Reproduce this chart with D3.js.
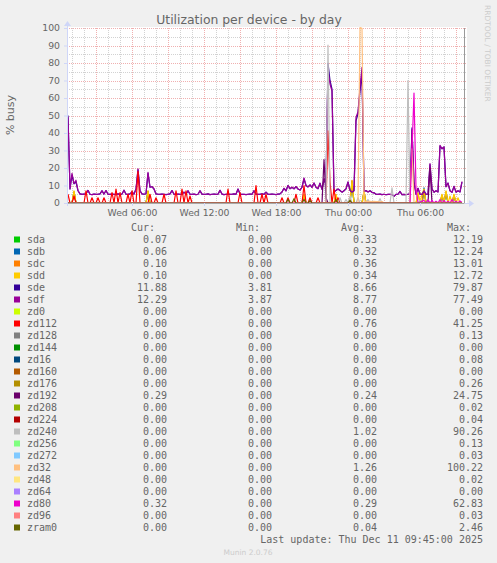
<!DOCTYPE html>
<html>
<head>
<meta charset="utf-8">
<script src="https://cdn.jsdelivr.net/npm/d3@7"></script>
<style>
  body { margin: 0; background: #f0f0f0; }
  svg { display: block; }
</style>
</head>
<body>
<div id="chart"></div>
<script>
// ---- data ---------------------------------------------------------------
// samples every 10 minutes, index 0 = Wed 10 Dec 2025 00:40 (UTC)
const sampleStart = Date.UTC(2025, 11, 10, 0, 40);
const sampleStep = 10 * 60 * 1000;
const sampleCount = 198;

const sdeValues = [
  50, 8, 16, 11, 12, 7, 5.2, 4.9, 5.1, 5.3, 7.2, 5.0, 4.8, 5.1, 4.9, 5.0, 5.2, 7.0, 5.1, 7.1,
  5.0, 4.9, 5.1, 5.0, 4.8, 5.2, 5.0, 5.1, 7.3, 5.0, 4.9, 5.2, 6.4, 5.1, 8.0, 19.0, 7.0, 5.2, 5.0, 5.3,
  17.0, 9.0, 9.3, 8.0, 5.2, 5.0, 4.9, 5.1, 5.0, 4.8, 5.0, 5.2, 7.1, 5.0, 4.9, 5.1, 5.0, 5.0, 6.2, 5.1,
  7.0, 5.0, 4.9, 5.1, 4.8, 5.0, 7.0, 5.1, 4.9, 5.0, 5.2, 4.8, 5.0, 5.1, 4.9, 5.0, 7.2, 5.1, 4.8, 5.0,
  5.1, 4.9, 5.0, 5.2, 5.0, 8.0, 5.1, 4.9, 5.0, 4.8, 5.0, 5.1, 5.0, 7.0, 5.1, 4.9, 5.0, 5.2, 4.9, 6.2,
  5.0, 4.9, 5.1, 5.0, 4.8, 5.1, 5.2, 6.3, 8.4, 7.0, 10.0, 8.2, 9.0, 8.1, 9.3, 8.0, 7.4, 9.0, 13.8, 10.0,
  9.2, 10.3, 9.0, 11.4, 9.0, 8.2, 11.3, 7.8, 13.5, 10.5, 79.87, 70.0, 65.0, 6.5, 7.2, 8.0, 7.1, 6.2, 7.0, 8.1,
  12.0, 7.2, 6.3, 7.0, 47.0, 51.0, 64.0, 74.0, 6.8, 7.1, 6.3, 7.0, 6.1, 5.8, 5.0, 4.9, 5.1, 4.8, 5.0, 4.7,
  4.9, 5.0, 4.8, 3.81, 4.9, 5.0, 6.6, 4.8, 4.9, 4.7, 5.0, 5.2, 43.0, 12.0, 5.0, 8.4, 5.1, 4.9, 6.9, 5.0,
  5.1, 22.0, 8.0, 6.2, 7.0, 6.3, 32.5, 31.0, 32.0, 9.3, 11.4, 7.0, 6.1, 9.5, 6.2, 7.0, 6.3, 11.88
];

const sdfValues = [
  49, 8, 17, 11, 13, 7, 5.2, 4.9, 5.1, 5.3, 7.2, 5.0, 4.8, 5.1, 4.9, 5.0, 5.2, 7.0, 5.1, 7.1,
  5.0, 4.9, 5.1, 5.0, 4.8, 5.2, 5.0, 5.1, 7.3, 5.0, 4.9, 5.2, 6.4, 5.1, 8.0, 19.5, 7.0, 5.2, 5.0, 5.3,
  17.5, 9.0, 9.3, 8.0, 5.2, 5.0, 4.9, 5.1, 5.0, 4.8, 5.0, 5.2, 7.1, 5.0, 4.9, 5.1, 5.0, 5.0, 6.2, 5.1,
  7.0, 5.0, 4.9, 5.1, 4.8, 5.0, 7.0, 5.1, 4.9, 5.0, 5.2, 4.8, 5.0, 5.1, 4.9, 5.0, 7.2, 5.1, 4.8, 5.0,
  5.1, 4.9, 5.0, 5.2, 5.0, 8.0, 5.1, 4.9, 5.0, 4.8, 5.0, 5.1, 5.0, 7.0, 5.1, 4.9, 5.0, 5.2, 4.9, 6.2,
  5.0, 4.9, 5.1, 5.0, 4.8, 5.1, 5.2, 6.3, 8.4, 7.0, 10.0, 8.2, 9.0, 8.1, 9.3, 8.0, 7.4, 9.0, 14.3, 10.0,
  9.2, 10.3, 9.0, 11.4, 9.0, 8.2, 11.3, 7.8, 14.0, 10.5, 76.0, 68.0, 64.0, 6.5, 7.2, 8.0, 7.1, 6.2, 7.0, 8.1,
  12.0, 7.2, 6.3, 7.0, 49.0, 52.0, 66.0, 77.49, 6.8, 7.1, 6.3, 7.0, 6.1, 5.8, 5.0, 4.9, 5.1, 4.8, 5.0, 4.7,
  4.9, 5.0, 4.8, 3.87, 4.9, 5.0, 6.6, 4.8, 4.9, 4.7, 5.0, 5.2, 42.0, 12.0, 5.0, 8.4, 5.1, 4.9, 6.9, 5.0,
  5.1, 22.5, 8.0, 6.2, 7.0, 6.3, 33.0, 31.0, 32.0, 9.3, 11.4, 7.0, 6.1, 9.5, 6.2, 7.0, 6.3, 12.29
];

// mostly idle devices: [sample index, value], every other sample is 0
const sdaPoints = [[3, 6], [40, 6.5], [118, 4.2], [142, 12.19], [148, 6], [178, 7], [187, 4], [189, 6], [193, 4], [197, 0.07]];
const sdbPoints = [[3, 6.2], [40, 6.6], [118, 4.4], [142, 12.24], [148, 6.2], [178, 8.6], [187, 4.2], [189, 6.2], [193, 4.2], [197, 0.06]];
const sdcPoints = [[3, 6.5], [40, 6.8], [118, 4.5], [134, 4.8], [142, 13.01], [148, 6.5], [175, 5.5], [178, 7.5], [187, 4.5], [189, 6.5], [193, 4.5], [197, 0.1]];
const sddPoints = [[3, 7], [40, 7], [118, 5], [134, 5], [142, 12.72], [148, 7], [175, 6], [177, 5], [178, 8], [187, 5], [189, 7], [191, 4], [193, 5], [195, 3], [197, 0.1]];
const zd0Points = [];
const zd112Points = [
  [0, 5], [3, 4], [9, 7], [12, 3], [15, 3], [18, 3], [22, 6], [24, 8], [26, 6], [30, 5], [32, 7],
  [35, 18], [41, 5], [44, 3], [48, 5], [54, 7], [57, 8], [59, 7], [61, 4], [80, 8], [86, 6], [94, 10],
  [97, 5], [99, 5], [107, 3], [110, 3], [114, 5], [118, 10], [121, 3], [125, 3], [130, 41.25],
  [131, 12], [133, 8], [135, 3]
];
const zd128Points = [[140, 0.13]];
const zd144Points = [];
const zd16Points = [[150, 0.08]];
const zd160Points = [];
const zd176Points = [[113, 0.26], [121, 0.2]];
const zd192Points = [[128, 24.75], [129, 3], [181, 20], [197, 0.29]];
const zd208Points = [[160, 0.02]];
const zd224Points = [[131, 0.04]];
const zd240Points = [[130, 90.26], [136, 3], [139, 2], [141, 4], [145, 3], [150, 2], [156, 2.5], [162, 8.6], [170, 70], [176, 1.5]];
const zd256Points = [[160, 0.13]];
const zd272Points = [[150, 0.03]];
const zd32Points = [
  [146, 100.22], [147, 99.8], [148, 1], [149, 0.9], [150, 0.8], [151, 0.9], [152, 0.8], [153, 0.9],
  [154, 0.8], [155, 0.8], [156, 0.7], [157, 0.8], [172, 31]
];
const zd48Points = [[150, 0.02]];
const zd64Points = [];
const zd80Points = [
  [172, 30], [173, 62.83], [174, 8], [176, 0.5], [177, 1], [178, 1.5], [180, 2], [182, 1.5], [184, 1],
  [186, 2], [188, 1.5], [190, 1], [192, 2], [194, 1], [196, 1.2], [197, 0.32]
];
const zd96Points = [[150, 0.03]];
const zram0Points = [[110, 2], [113, 2.46], [118, 2], [121, 1.5], [134, 2], [141, 1.5]];

const seriesNames = ["sda", "sdb", "sdc", "sdd", "sde", "sdf", "zd0", "zd112", "zd128", "zd144",
  "zd16", "zd160", "zd176", "zd192", "zd208", "zd224", "zd240", "zd256", "zd272", "zd32",
  "zd48", "zd64", "zd80", "zd96", "zram0"];
const seriesColors = ["#00CC00", "#0066B3", "#FF8000", "#FFCC00", "#330099", "#990099", "#CCFF00",
  "#FF0000", "#808080", "#008F00", "#00487D", "#B35A00", "#B38F00", "#6B006B", "#8FB300",
  "#B30000", "#BEBEBE", "#80FF80", "#80C9FF", "#FFC080", "#FFE680", "#AA80FF", "#EE00CC",
  "#FF8080", "#666600"];
const curValues = [0.07, 0.06, 0.10, 0.10, 11.88, 12.29, 0, 0, 0, 0, 0, 0, 0, 0.29, 0, 0, 0, 0, 0, 0, 0, 0, 0.32, 0, 0];
const minValues = [0, 0, 0, 0, 3.81, 3.87, 0, 0, 0, 0, 0, 0, 0, 0, 0, 0, 0, 0, 0, 0, 0, 0, 0, 0, 0];
const avgValues = [0.33, 0.32, 0.36, 0.34, 8.66, 8.77, 0, 0.76, 0, 0, 0, 0, 0, 0.24, 0, 0, 1.02, 0, 0, 1.26, 0, 0, 0.29, 0, 0.04];
const maxValues = [12.19, 12.24, 13.01, 12.72, 79.87, 77.49, 0, 41.25, 0.13, 0, 0.08, 0, 0.26, 24.75, 0.02, 0.04, 90.26, 0.13, 0.03, 100.22, 0.02, 0, 62.83, 0.03, 2.46];

const yTicks = [0, 10, 20, 30, 40, 50, 60, 70, 80, 90, 100];
const lastUpdate = "Last update: Thu Dec 11 09:45:00 2025";

// ---- build series --------------------------------------------------------
function expand(points) {
  const m = new Map(points);
  return d3.range(sampleCount).map((i) => (m.has(i) ? m.get(i) : 0));
}
const seriesValues = [
  expand(sdaPoints), expand(sdbPoints), expand(sdcPoints), expand(sddPoints),
  sdeValues, sdfValues,
  expand(zd0Points), expand(zd112Points), expand(zd128Points), expand(zd144Points),
  expand(zd16Points), expand(zd160Points), expand(zd176Points), expand(zd192Points),
  expand(zd208Points), expand(zd224Points), expand(zd240Points), expand(zd256Points),
  expand(zd272Points), expand(zd32Points), expand(zd48Points), expand(zd64Points),
  expand(zd80Points), expand(zd96Points), expand(zram0Points)
];
const series = seriesNames.map((name, k) => ({
  name,
  color: seriesColors[k],
  values: seriesValues[k].map((v, i) => ({ t: new Date(sampleStart + i * sampleStep), v }))
}));

// ---- layout ------------------------------------------------------------
const W = 497, H = 563;
const plot = { left: 67, right: 467, top: 28, bottom: 203 };
const textColor = "#666666";
const axisColor = "#CFD6F8";
const sans = "DejaVu Sans, sans-serif";
const mono = "DejaVu Sans Mono, monospace";

const x = d3.scaleUtc()
  .domain([Date.UTC(2025, 11, 10, 0, 35), Date.UTC(2025, 11, 11, 9, 55)])
  .range([plot.left, plot.right]);
const y = d3.scaleLinear().domain([0, 100]).range([plot.bottom, plot.top]);

const svg = d3.select("#chart").append("svg")
  .attr("width", W).attr("height", H)
  .attr("viewBox", `0 0 ${W} ${H}`)
  .style("background", "#f0f0f0");

// canvas
svg.append("rect")
  .attr("x", plot.left).attr("y", plot.top - 1)
  .attr("width", plot.right - plot.left).attr("height", plot.bottom - plot.top + 1)
  .attr("fill", "#ffffff");

// grid
const grid = svg.append("g").attr("shape-rendering", "crispEdges");
const minorColor = "#d2d2d2", majorColor = "#f0b0b0";
const minorY = d3.range(5, 100, 10);
grid.selectAll(".minorY").data(minorY).enter().append("line")
  .attr("x1", plot.left).attr("x2", plot.right)
  .attr("y1", (d) => Math.round(y(d)) + 0.5).attr("y2", (d) => Math.round(y(d)) + 0.5)
  .attr("stroke", minorColor).attr("stroke-dasharray", "1,1");
const hours = x.ticks(d3.utcHour.every(1));
grid.selectAll(".minorX").data(hours.filter((d) => d.getUTCHours() % 3 !== 0)).enter().append("line")
  .attr("x1", (d) => Math.round(x(d)) + 0.5).attr("x2", (d) => Math.round(x(d)) + 0.5)
  .attr("y1", plot.top).attr("y2", plot.bottom)
  .attr("stroke", minorColor).attr("stroke-dasharray", "1,1");
grid.selectAll(".majorY").data(yTicks.filter((d) => d > 0)).enter().append("line")
  .attr("x1", plot.left).attr("x2", plot.right)
  .attr("y1", (d) => Math.round(y(d)) + 0.5).attr("y2", (d) => Math.round(y(d)) + 0.5)
  .attr("stroke", majorColor).attr("stroke-dasharray", "1,1");
grid.selectAll(".majorX").data(hours.filter((d) => d.getUTCHours() % 3 === 0)).enter().append("line")
  .attr("x1", (d) => Math.round(x(d)) + 0.5).attr("x2", (d) => Math.round(x(d)) + 0.5)
  .attr("y1", plot.top).attr("y2", plot.bottom)
  .attr("stroke", majorColor).attr("stroke-dasharray", "1,1");

// lines
const line = d3.line()
  .x((d) => x(d.t))
  .y((d) => y(d.v));
svg.append("g").selectAll("path").data(series).enter().append("path")
  .attr("d", (d) => line(d.values))
  .attr("fill", "none")
  .attr("stroke", (d) => d.color)
  .attr("stroke-width", 1.2)
  .attr("stroke-linejoin", "round");

// zero line and end-of-data rule
const lastT = new Date(sampleStart + sampleCount * sampleStep);
svg.append("line")
  .attr("x1", plot.left).attr("x2", Math.round(x(lastT)) + 0.5)
  .attr("y1", plot.bottom + 0.5).attr("y2", plot.bottom + 0.5)
  .attr("stroke", "#a8a8a8");
svg.append("line")
  .attr("x1", Math.round(x(lastT)) + 0.5).attr("x2", Math.round(x(lastT)) + 0.5)
  .attr("y1", plot.top).attr("y2", plot.bottom)
  .attr("stroke", "#9a9a9a");

// axes
const yAxis = svg.append("g")
  .attr("transform", `translate(${plot.left},0)`)
  .call(d3.axisLeft(y).tickValues(yTicks).tickSize(3).tickPadding(4));
const xAxis = svg.append("g")
  .attr("transform", `translate(0,${plot.bottom})`)
  .call(d3.axisBottom(x).ticks(d3.utcHour.every(6)).tickSize(3).tickPadding(3)
    .tickFormat(d3.utcFormat("%a %H:%M")));
[yAxis, xAxis].forEach((a) => {
  a.select(".domain").remove();
  a.selectAll(".tick line").attr("stroke", axisColor);
  a.selectAll("text").attr("fill", textColor).style("font-family", sans).style("font-size", "9.3px");
});

svg.append("line")
  .attr("x1", Math.round(x(lastT)) + 1).attr("x2", plot.right + 3)
  .attr("y1", plot.bottom + 0.5).attr("y2", plot.bottom + 0.5)
  .attr("stroke", axisColor);
svg.append("line")
  .attr("x1", plot.left + 0.5).attr("x2", plot.left + 0.5)
  .attr("y1", plot.bottom + 3).attr("y2", plot.top - 3)
  .attr("stroke", axisColor);
svg.append("path")
  .attr("d", `M${plot.left - 3},${plot.top - 2}L${plot.left + 0.5},${plot.top - 7}L${plot.left + 4},${plot.top - 2}Z`)
  .attr("fill", axisColor);
svg.append("path")
  .attr("d", `M${plot.right + 2},${plot.bottom - 3}L${plot.right + 7},${plot.bottom + 0.5}L${plot.right + 2},${plot.bottom + 4}Z`)
  .attr("fill", axisColor);

// title and side texts
svg.append("text")
  .attr("x", 249).attr("y", 24)
  .attr("text-anchor", "middle")
  .attr("fill", textColor)
  .style("font-family", sans).style("font-size", "12.4px")
  .text("Utilization per device - by day");

svg.append("text")
  .attr("transform", "translate(14,115) rotate(-90)")
  .attr("text-anchor", "middle")
  .attr("fill", textColor)
  .style("font-family", sans).style("font-size", "11px")
  .text("% busy");

svg.append("text")
  .attr("transform", "translate(485,5) rotate(90)")
  .attr("text-anchor", "start")
  .attr("fill", "#cccccc")
  .style("font-family", sans).style("font-size", "7.5px")
  .text("RRDTOOL / TOBI OETIKER");

// legend table
const legend = svg.append("g")
  .style("font-family", mono).style("font-size", "10px")
  .attr("fill", textColor);
const colEnds = [167, 272, 377, 483];
const headers = ["Cur:", "Min:", "Avg:", "Max:"];
legend.selectAll(".hdr").data(headers).enter().append("text")
  .attr("x", (d, i) => colEnds[i] - 36).attr("y", 231)
  .text((d) => d);

const rowY = (i) => 243 + i * 12;
const fmt = d3.format(".2f");
const rows = legend.selectAll(".row").data(series).enter().append("g");
rows.append("rect")
  .attr("x", 14).attr("y", (d, i) => rowY(i) - 6.5)
  .attr("width", 6).attr("height", 6)
  .attr("fill", (d) => d.color);
rows.append("text")
  .attr("x", 27).attr("y", (d, i) => rowY(i))
  .text((d) => d.name);
[curValues, minValues, avgValues, maxValues].forEach((col, c) => {
  rows.append("text")
    .attr("x", colEnds[c]).attr("y", (d, i) => rowY(i))
    .attr("text-anchor", "end")
    .text((d, i) => fmt(col[i]));
});

legend.append("text")
  .attr("x", 483).attr("y", 543)
  .attr("text-anchor", "end")
  .text(lastUpdate);

svg.append("text")
  .attr("x", 248).attr("y", 555)
  .attr("text-anchor", "middle")
  .attr("fill", "#cccccc")
  .style("font-family", sans).style("font-size", "7.5px")
  .text("Munin 2.0.76");
</script>
</body>
</html>
